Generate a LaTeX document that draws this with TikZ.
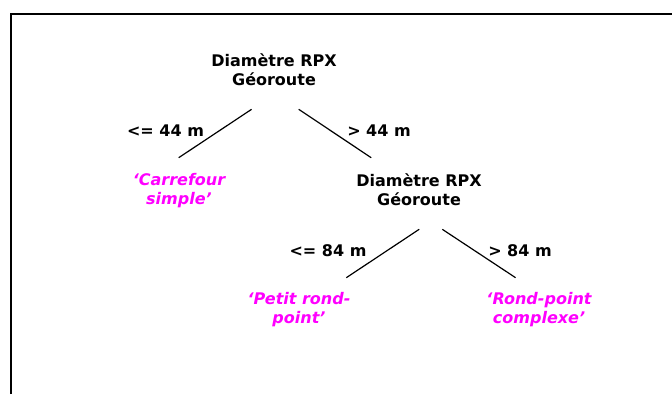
\documentclass[tikz,border=0pt]{standalone}
\usepackage{fontspec}
\setmainfont{DejaVu Sans}
\usetikzlibrary{positioning}
\definecolor{leafpink}{RGB}{255,0,255}
\tikzset{
  test/.style={font=\bfseries\fontsize{16}{19}\selectfont, align=center, inner sep=0pt},
  leaf/.style={font=\bfseries\itshape\fontsize{16}{19}\selectfont, align=center, inner sep=0pt, text=leafpink},
  cond/.style={font=\bfseries\fontsize{16}{19}\selectfont, inner sep=0pt},
  branch/.style={line width=1.2pt}
}
\begin{document}
\begin{tikzpicture}[x=1pt,y=-1pt]
  \useasboundingbox (0,0) rectangle (672,394);
  % frame (top and left only)
  \draw[line width=2pt] (11,394) -- (11,13.5) -- (672,13.5);

  % tests
  \node[test] (root) at (274,70) {Diamètre RPX\\Géoroute};
  \node[test] (sub) at (419,190) {Diamètre RPX\\Géoroute};

  % leaves
  \node[leaf] (carrefour) at (179,191) {‘Carrefour\\simple’};
  \node[leaf] (petit) at (299,310) {‘Petit rond-\\point’};
  \node[leaf] (complexe) at (539,310) {‘Rond-point\\complexe’};

  % branch ends
  \coordinate (r1) at (251.6,109.3); \coordinate (c1) at (178.7,157.7);
  \coordinate (r2) at (298.7,109.3); \coordinate (s2) at (371.2,157.7);
  \coordinate (s3) at (419.2,229.3); \coordinate (p3) at (346.3,277.7);
  \coordinate (s4) at (442.3,229.3); \coordinate (k4) at (515.6,277.7);
  \draw[branch] (r1) -- (c1);
  \draw[branch] (r2) -- (s2);
  \draw[branch] (s3) -- (p3);
  \draw[branch] (s4) -- (k4);

  % conditions
  \node[cond] (le44) at (165.5,130.7) {<= 44 m};
  \node[cond] (gt44) at (379,130.7) {> 44 m};
  \node[cond] (le84) at (328,250.7) {<= 84 m};
  \node[cond] (gt84) at (520,250.7) {> 84 m};
\end{tikzpicture}
\end{document}
